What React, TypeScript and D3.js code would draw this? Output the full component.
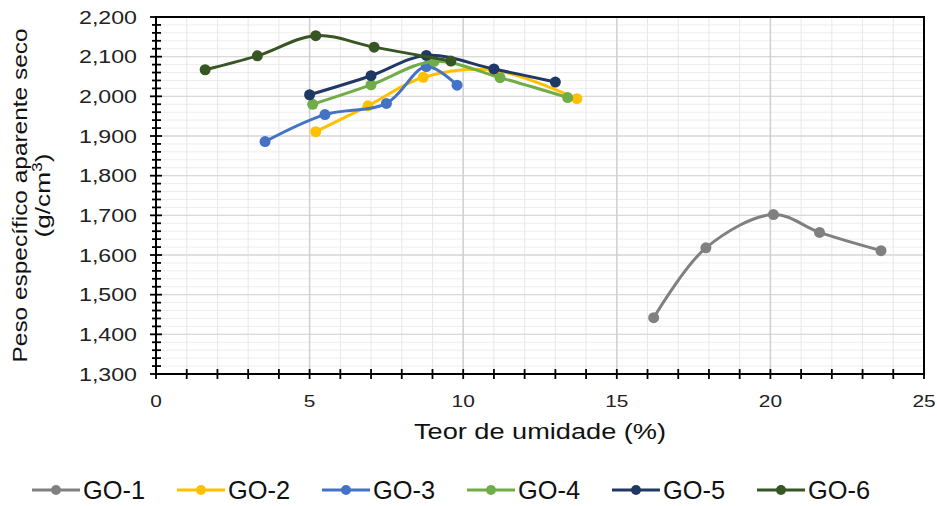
import React from "react";
import * as d3 from "d3";

const seriesNames = ["GO-1", "GO-2", "GO-3", "GO-4", "GO-5", "GO-6"];
const seriesColors = ["#808080", "#ffc000", "#4472c4", "#70ad47", "#203864", "#375623"];

const go1X = [16.2, 17.9, 20.1, 21.6, 23.6];
const go1Y = [1442, 1618, 1702, 1657, 1611];
const go2X = [5.2, 6.9, 8.7, 11.0, 13.7];
const go2Y = [1911, 1976, 2048, 2066, 1994];
const go3X = [3.55, 5.5, 7.5, 8.8, 9.8];
const go3Y = [1886, 1954, 1982, 2075, 2028];
const go4X = [5.1, 7.0, 9.05, 11.2, 13.4];
const go4Y = [1980, 2029, 2088, 2047, 1997];
const go5X = [5.0, 7.0, 8.8, 11.0, 13.0];
const go5Y = [2004, 2052, 2103, 2069, 2036];
const go6X = [1.6, 3.3, 5.2, 7.1, 9.6];
const go6Y = [2067, 2102, 2153, 2124, 2089];

const xTicks = [0, 5, 10, 15, 20, 25];
const yTicks = [1300, 1400, 1500, 1600, 1700, 1800, 1900, 2000, 2100, 2200];
const xTitle = "Teor de umidade (%)";
const yTitle1 = "Peso específico aparente seco";

const allX = [go1X, go2X, go3X, go4X, go5X, go6X];
const allY = [go1Y, go2Y, go3Y, go4Y, go5Y, go6Y];

const W = 937;
const H = 506;
const L = 156, R = 924, T = 17, B = 374;
const FONT = "'Liberation Sans', Arial, sans-serif";

export default function App() {
  const x = d3.scaleLinear().domain([0, 25]).range([L, R]);
  const y = d3.scaleLinear().domain([1300, 2200]).range([B, T]);
  const line = d3
    .line<[number, number]>()
    .x((d) => x(d[0]))
    .y((d) => y(d[1]))
    .curve(d3.curveCatmullRom.alpha(0.5));

  const minorX = d3.range(0, 26, 1);
  const minorY = d3.range(1300, 2201, 20);
  const fmt = d3.format(",");

  const series = seriesNames.map((name, i) => ({
    name,
    color: seriesColors[i],
    pts: allX[i].map((v, j) => [v, allY[i][j]] as [number, number]),
  }));

  const legendX0 = 32;
  const legendStep = 145;
  const legendY = 490;

  return (
    <svg
      width={W}
      height={H}
      style={{ position: "absolute", left: 0, top: 0, background: "#fff" }}
      fontFamily={FONT}
    >
      <rect x={0} y={0} width={W} height={H} fill="#fff" />
      {/* minor grid */}
      {minorY.map((v) => (
        <line key={"hy" + v} x1={L} x2={R} y1={y(v)} y2={y(v)} stroke="#ededed" strokeWidth={1} />
      ))}
      {minorX.map((v) => (
        <line key={"vx" + v} x1={x(v)} x2={x(v)} y1={T} y2={B} stroke="#e8e8e8" strokeWidth={1} />
      ))}
      {/* major grid */}
      {yTicks.map((v) => (
        <line key={"hY" + v} x1={L} x2={R} y1={y(v)} y2={y(v)} stroke="#d9d9d9" strokeWidth={1.3} />
      ))}
      {xTicks.map((v) => (
        <line key={"vX" + v} x1={x(v)} x2={x(v)} y1={T} y2={B} stroke="#d0d0d0" strokeWidth={1.5} />
      ))}
      {/* frame */}
      <rect x={L} y={T} width={R - L} height={B - T} fill="none" stroke="#000" strokeWidth={2} />
      {/* y ticks */}
      {minorY.map((v) => (
        <line
          key={"ty" + v}
          x1={L - (v % 100 === 0 ? 6 : 4)}
          x2={L + (v % 100 === 0 ? 6 : 5)}
          y1={y(v)}
          y2={y(v)}
          stroke="#000"
          strokeWidth={1.8}
        />
      ))}
      {minorX.map((v) => (
        <line
          key={"tx" + v}
          x1={x(v)}
          x2={x(v)}
          y1={B - 5}
          y2={B + 5}
          stroke="#000"
          strokeWidth={1.8}
        />
      ))}
      {/* tick labels */}
      {yTicks.map((v) => (
        <text
          key={"ly" + v}
          x={137}
          y={y(v) + 6.5}
          textAnchor="end"
          fontSize={18}
          fill="#222"
          textLength={58}
          lengthAdjust="spacingAndGlyphs"
        >
          {fmt(v)}
        </text>
      ))}
      {xTicks.map((v) => {
        const s = String(v);
        return (
          <text
            key={"lx" + v}
            x={x(v)}
            y={407}
            textAnchor="middle"
            fontSize={17}
            fill="#222"
            textLength={s.length * 11.6}
            lengthAdjust="spacingAndGlyphs"
          >
            {s}
          </text>
        );
      })}
      {/* axis titles */}
      <text
        x={(L + R) / 2}
        y={439}
        textAnchor="middle"
        fontSize={22}
        fill="#111"
        textLength={252}
        lengthAdjust="spacingAndGlyphs"
      >
        {xTitle}
      </text>
      <text
        transform={`translate(27, ${(T + B) / 2}) rotate(-90)`}
        textAnchor="middle"
        fontSize={21}
        fill="#111"
        textLength={334}
        lengthAdjust="spacingAndGlyphs"
      >
        {yTitle1}
      </text>
      <text
        transform={`translate(50, ${(T + B) / 2}) rotate(-90) scale(1.25, 1)`}
        textAnchor="middle"
        fontSize={21}
        fill="#111"
      >
        (g/cm<tspan dy={-8} fontSize={14}>3</tspan>
        <tspan dy={8}>)</tspan>
      </text>
      {/* series */}
      {series.map((s) => (
        <g key={s.name}>
          <path d={line(s.pts) || ""} fill="none" stroke={s.color} strokeWidth={3} />
          {s.pts.map((p, j) => (
            <circle key={j} cx={x(p[0])} cy={y(p[1])} r={5.5} fill={s.color} />
          ))}
        </g>
      ))}
      {/* legend */}
      {series.map((s, i) => {
        const lx = legendX0 + i * legendStep;
        return (
          <g key={"lg" + s.name}>
            <line x1={lx} x2={lx + 48} y1={legendY} y2={legendY} stroke={s.color} strokeWidth={3} />
            <circle cx={lx + 24} cy={legendY} r={5} fill={s.color} />
            <text
              x={lx + 51}
              y={legendY + 9}
              fontSize={25}
              fill="#111"
              textLength={62}
              lengthAdjust="spacingAndGlyphs"
            >
              {s.name}
            </text>
          </g>
        );
      })}
    </svg>
  );
}
